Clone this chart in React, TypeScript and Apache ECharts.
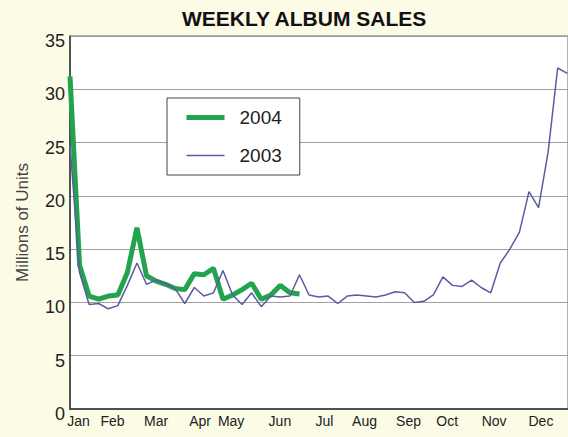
import React, { useEffect, useRef } from "react";
import * as echarts from "echarts";

const months = ["Jan", "Feb", "Mar", "Apr", "May", "Jun", "Jul", "Aug", "Sep", "Oct", "Nov", "Dec"];
const monthWeeks = [0.9, 4.45, 9.0, 13.6, 16.85, 21.95, 26.6, 30.8, 35.4, 39.45, 44.35, 49.25];

const sales2004 = [
  31.2, 13.5, 10.6, 10.3, 10.6, 10.7, 12.8, 17.0, 12.5, 12.0, 11.7, 11.3, 11.2,
  12.7, 12.6, 13.2, 10.3, 10.7, 11.2, 11.8, 10.3, 10.7, 11.6, 10.9, 10.8,
];

const sales2003 = [
  24.8, 12.8, 9.8, 9.9, 9.4, 9.7, 11.6, 13.7, 11.7, 12.1, 11.75, 11.3, 9.9,
  11.4, 10.6, 10.9, 13.0, 10.7, 9.8, 10.9, 9.6, 10.6, 10.5, 10.6, 12.6, 10.7,
  10.5, 10.6, 9.9, 10.6, 10.7, 10.6, 10.5, 10.7, 11.0, 10.9, 10.0, 10.1, 10.7,
  12.4, 11.6, 11.5, 12.1, 11.4, 10.9, 13.7, 15.0, 16.6, 20.4, 18.9, 24.1, 32.0, 31.5,
];

const yTicks = { min: 0, max: 35, interval: 5 };

export default function App() {
  const ref = useRef<HTMLDivElement>(null);
  useEffect(() => {
    if (!ref.current) return;
    const chart = echarts.init(ref.current, null, { renderer: "svg" });
    const font = "'Liberation Sans', Arial, sans-serif";
    chart.setOption({
      animation: false,
      backgroundColor: "#fbfbe6",
      textStyle: { fontFamily: font },
      title: {
        text: "WEEKLY ALBUM SALES",
        left: 182,
        top: 8,
        padding: 0,
        textStyle: { fontSize: 21, fontWeight: "bold", color: "#111", fontFamily: font },
      },
      legend: {
        orient: "vertical",
        left: 167,
        top: 98,
        padding: [10, 18, 10, 17],
        itemWidth: 38,
        itemHeight: 20,
        itemGap: 19,
        backgroundColor: "#fff",
        borderColor: "#444",
        borderWidth: 1,
        borderRadius: 0,
        textStyle: { fontSize: 19, color: "#222", padding: [0, 0, 0, 10], fontFamily: font },
        data: [
          { name: "2004", itemStyle: { opacity: 0 }, lineStyle: { width: 5, color: "#22a34d" } },
          { name: "2003", itemStyle: { opacity: 0 }, lineStyle: { width: 1.5, color: "#5b5ba3" } },
        ],
      },
      grid: {
        left: 70,
        right: -2,
        top: 36,
        bottom: 28,
        show: true,
        backgroundColor: "#fff",
        borderColor: "#666",
        borderWidth: 1,
      },
      xAxis: {
        type: "value",
        min: 0,
        max: 52.08,
        axisLine: { show: true, lineStyle: { color: "#333", width: 1.5 } },
        axisTick: { show: false },
        splitLine: { show: false },
        axisLabel: {
          customValues: monthWeeks,
          hideOverlap: false,
          showMinLabel: true,
          showMaxLabel: true,
          margin: 5,
          fontSize: 14,
          color: "#222",
          fontFamily: font,
          formatter: (v: number) => {
            const idx = monthWeeks.findIndex((w) => Math.abs(w - v) < 1e-6);
            return idx >= 0 ? months[idx] : "";
          },
        },
      },
      yAxis: {
        type: "value",
        min: yTicks.min,
        max: yTicks.max,
        interval: yTicks.interval,
        name: "Millions of Units",
        nameLocation: "middle",
        nameGap: 39,
        nameTextStyle: { fontSize: 17, color: "#444", fontFamily: font },
        axisLine: { show: true, lineStyle: { color: "#333", width: 1.5 } },
        axisTick: { show: false },
        splitLine: { show: true, lineStyle: { color: "#a0a0a0", width: 1 } },
        axisLabel: {
          fontSize: 18,
          color: "#222",
          margin: 5,
          verticalAlign: "top",
          lineHeight: 10,
          fontFamily: font,
        },
      },
      series: [
        {
          name: "2004",
          type: "line",
          symbol: "none",
          z: 2,
          lineStyle: { width: 5, color: "#22a34d" },
          itemStyle: { color: "#22a34d" },
          data: sales2004.map((v, i) => [i, v]),
        },
        {
          name: "2003",
          type: "line",
          symbol: "none",
          z: 3,
          lineStyle: { width: 1.5, color: "#5b5ba3" },
          itemStyle: { color: "#5b5ba3" },
          data: sales2003.map((v, i) => [i, v]),
        },
      ],
    });
    return () => chart.dispose();
  }, []);
  return (
    <div
      ref={ref}
      style={{ position: "absolute", left: 0, top: 0, width: 568, height: 437 }}
    />
  );
}
